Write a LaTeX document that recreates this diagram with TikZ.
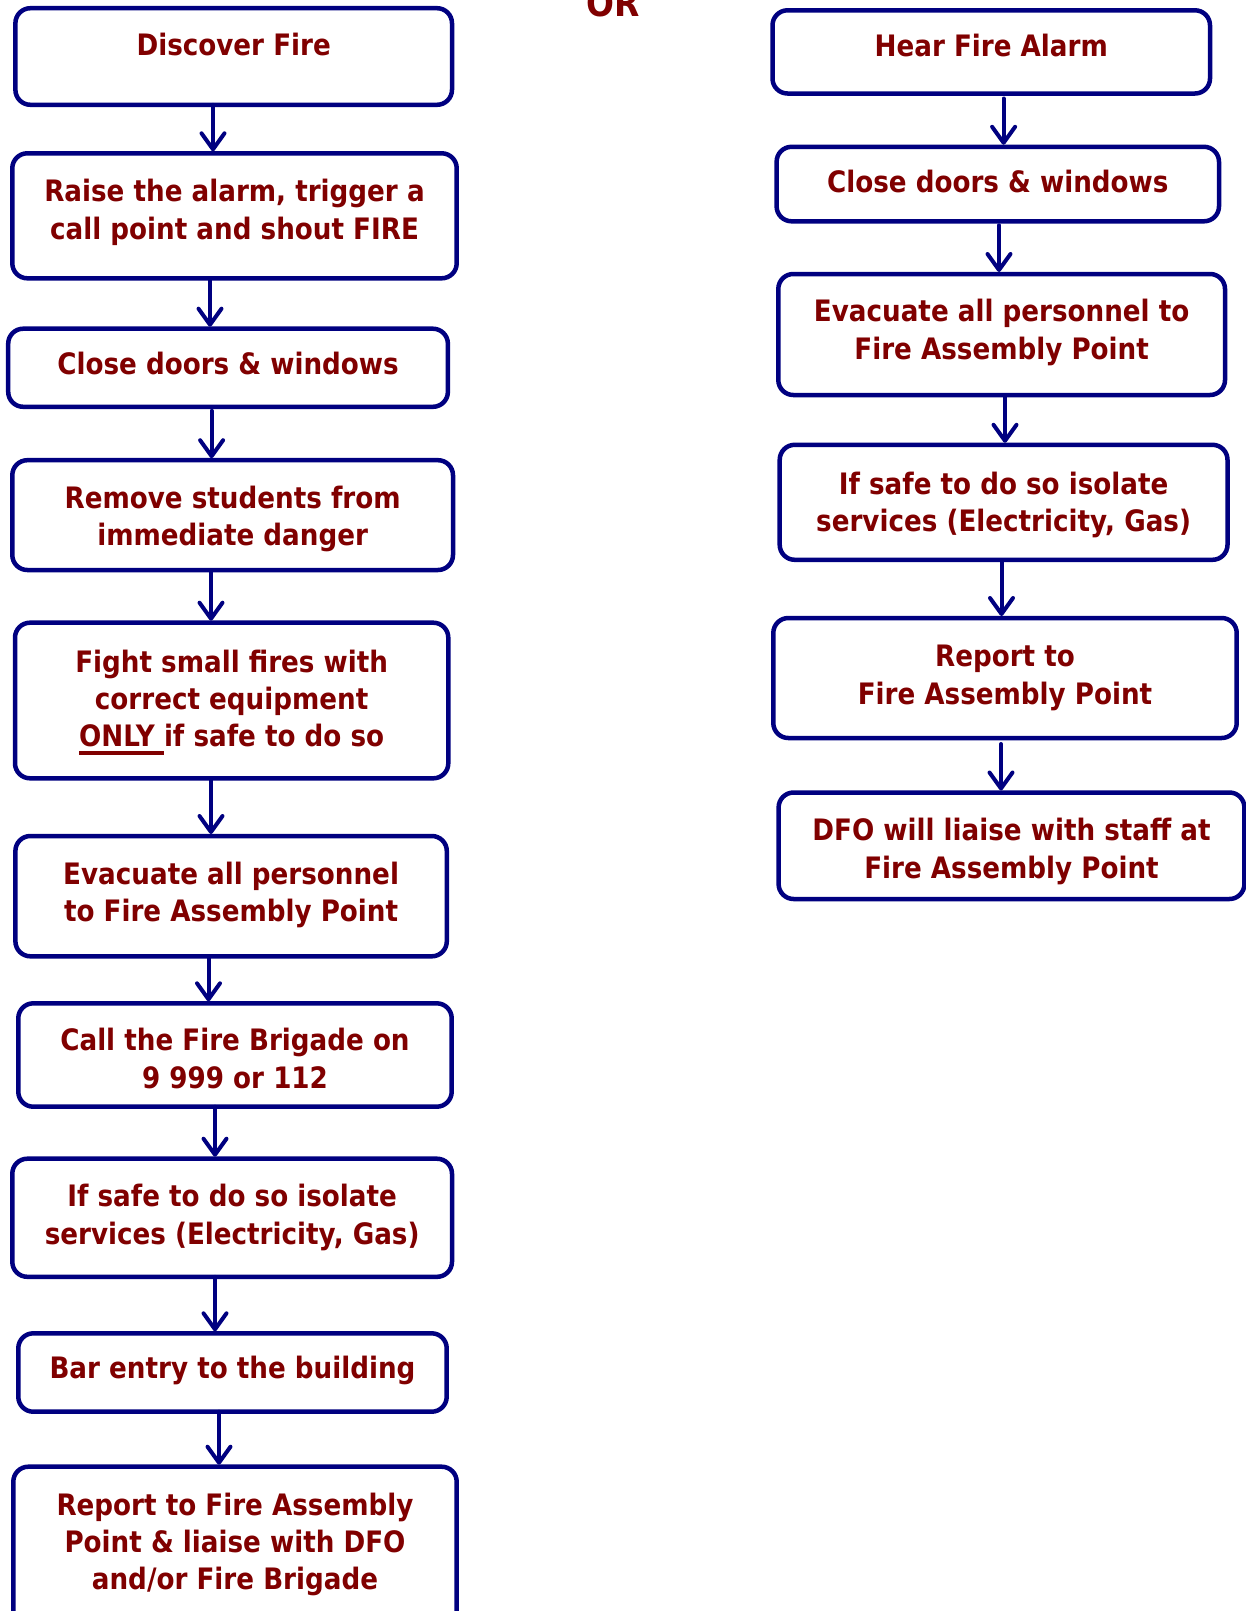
\documentclass[tikz,border=0pt]{standalone}
\usepackage{fontspec}
\setmainfont{DejaVu Sans}[FakeStretch=0.888]
\usetikzlibrary{arrows.meta}
\definecolor{navyline}{RGB}{0,0,128}
\definecolor{textred}{RGB}{128,0,0}
\newcommand\myul[1]{\setbox0\hbox{#1}\rlap{\color{textred}\rule[-8pt]{\wd0}{4pt}}\box0}
\newcommand\flowtext[1]{\begin{tabular}[t]{@{}c@{}}#1\end{tabular}}
\begin{document}
\begin{tikzpicture}[x=1pt,y=-1pt,
  box/.style={draw=navyline, line width=4.5pt, rounded corners=15pt, inner sep=0pt, outer sep=0pt},
  txt/.style={anchor=base, inner sep=0pt, outer sep=0pt, text=textred, font=\fontsize{29.5}{37.3}\selectfont\bfseries},
  arr/.style={draw=navyline, line width=4pt, line cap=round, -{Straight Barb[length=16pt, width=23pt, round]}}
]
\useasboundingbox (0,0) rectangle (1245,1611);
\fill[white] (0,0) rectangle (1245,1611);

% OR
\node[txt, font=\fontsize{37}{44}\selectfont\bfseries] (or) at (612.7,16.7) {OR};

% left column boxes
\node[box, minimum width=436.6pt, minimum height=96.6pt] (b1) at (233.7,56.5) {};
\node[box, minimum width=444.4pt, minimum height=125pt] (b2) at (234.5,215.8) {};
\node[box, minimum width=439.7pt, minimum height=78.1pt] (b3) at (228.05,367.75) {};
\node[box, minimum width=440.7pt, minimum height=109.8pt] (b4) at (232.65,515.1) {};
\node[box, minimum width=433.3pt, minimum height=155.6pt] (b5) at (231.65,700.5) {};
\node[box, minimum width=431.4pt, minimum height=120.3pt] (b6) at (231.1,896.15) {};
\node[box, minimum width=433.4pt, minimum height=103.4pt] (b7) at (235,1055) {};
\node[box, minimum width=439.7pt, minimum height=118.1pt] (b8) at (232.15,1217.75) {};
\node[box, minimum width=428.4pt, minimum height=78.4pt] (b9) at (232.5,1372.5) {};
\node[box, minimum width=443.4pt, minimum height=158.3pt] (b10) at (235,1545.85) {};

% left column texts
\node[txt] (t1) at (233.7,56) {\flowtext{Discover Fire}};
\node[txt] (t2) at (234.5,201.7) {\flowtext{Raise the alarm, trigger a\\call point and shout FIRE}};
\node[txt] (t3) at (228.05,374.6) {\flowtext{Close doors \& windows}};
\node[txt] (t4) at (232.65,508) {\flowtext{Remove students from\\immediate danger}};
\node[txt] (t5) at (231.65,672) {\flowtext{Fight small fires with\\correct equipment\\\myul{ONLY\ }if safe to do so}};
\node[txt] (t6) at (231.1,884) {\flowtext{Evacuate all personnel\\to Fire Assembly Point}};
\node[txt] (t7) at (235,1050.7) {\flowtext{Call the Fire Brigade on\\9 999 or 112}};
\node[txt] (t8) at (232.15,1206.7) {\flowtext{If safe to do so isolate\\services (Electricity, Gas)}};
\node[txt] (t9) at (232.5,1378.3) {\flowtext{Bar entry to the building}};
\node[txt] (t10) at (235,1515) {\flowtext{Report to Fire Assembly\\Point \& liaise with DFO\\and/or Fire Brigade}};

% right column boxes
\node[box, minimum width=437.5pt, minimum height=83.2pt] (r1) at (991.25,51.9) {};
\node[box, minimum width=442.4pt, minimum height=74.5pt] (r2) at (997.8,184.05) {};
\node[box, minimum width=446.7pt, minimum height=121pt] (r3) at (1001.65,334.5) {};
\node[box, minimum width=447.8pt, minimum height=115pt] (r4) at (1003.6,502.3) {};
\node[box, minimum width=463.4pt, minimum height=120pt] (r5) at (1005,678) {};
\node[box, minimum width=465.8pt, minimum height=106.5pt] (r6) at (1011.5,845.75) {};

% right column texts
\node[txt] (s1) at (991.25,57) {\flowtext{Hear Fire Alarm}};
\node[txt] (s2) at (997.8,192.7) {\flowtext{Close doors \& windows}};
\node[txt] (s3) at (1001.65,321.7) {\flowtext{Evacuate all personnel to\\Fire Assembly Point}};
\node[txt] (s4) at (1003.6,494) {\flowtext{If safe to do so isolate\\services (Electricity, Gas)}};
\node[txt] (s5) at (1005,666.7) {\flowtext{Report to\\Fire Assembly Point}};
\node[txt] (s6) at (1011.5,840.7) {\flowtext{DFO will liaise with staff at\\Fire Assembly Point}};

% arrow x positions
\coordinate (xa1) at (213,0);
\coordinate (xa2) at (210,0);
\coordinate (xa3) at (211.6,0);
\coordinate (xa4) at (211,0);
\coordinate (xa5) at (211,0);
\coordinate (xa6) at (208.5,0);
\coordinate (xa7) at (215,0);
\coordinate (xa8) at (215,0);
\coordinate (xa9) at (219,0);
\coordinate (xb1) at (1003.6,0);
\coordinate (xb2) at (999,0);
\coordinate (xb3) at (1005,0);
\coordinate (xb4) at (1001.5,0);
\coordinate (xb5) at (1001,0);

% left arrows
\draw[arr, shorten >=2pt] (b1.south -| xa1) -- (b2.north -| xa1);
\draw[arr, shorten >=2pt] (b2.south -| xa2) -- (b3.north -| xa2);
\draw[arr, shorten <=4pt, shorten >=2pt] (b3.south -| xa3) -- (b4.north -| xa3);
\draw[arr, shorten >=2pt] (b4.south -| xa4) -- (b5.north -| xa4);
\draw[arr, shorten >=2pt] (b5.south -| xa5) -- (b6.north -| xa5);
\draw[arr, shorten >=2pt] (b6.south -| xa6) -- (b7.north -| xa6);
\draw[arr, shorten >=2pt] (b7.south -| xa7) -- (b8.north -| xa7);
\draw[arr, shorten >=2pt] (b8.south -| xa8) -- (b9.north -| xa8);
\draw[arr, shorten >=2pt] (b9.south -| xa9) -- (b10.north -| xa9);

% right arrows
\draw[arr, shorten <=5pt, shorten >=2pt] (r1.south -| xb1) -- (r2.north -| xb1);
\draw[arr, shorten <=4pt, shorten >=2pt] (r2.south -| xb2) -- (r3.north -| xb2);
\draw[arr, shorten <=2pt, shorten >=2pt] (r3.south -| xb3) -- (r4.north -| xb3);
\draw[arr, shorten <=2pt, shorten >=2pt] (r4.south -| xb4) -- (r5.north -| xb4);
\draw[arr, shorten <=6pt, shorten >=2pt] (r5.south -| xb5) -- (r6.north -| xb5);
\end{tikzpicture}
\end{document}
